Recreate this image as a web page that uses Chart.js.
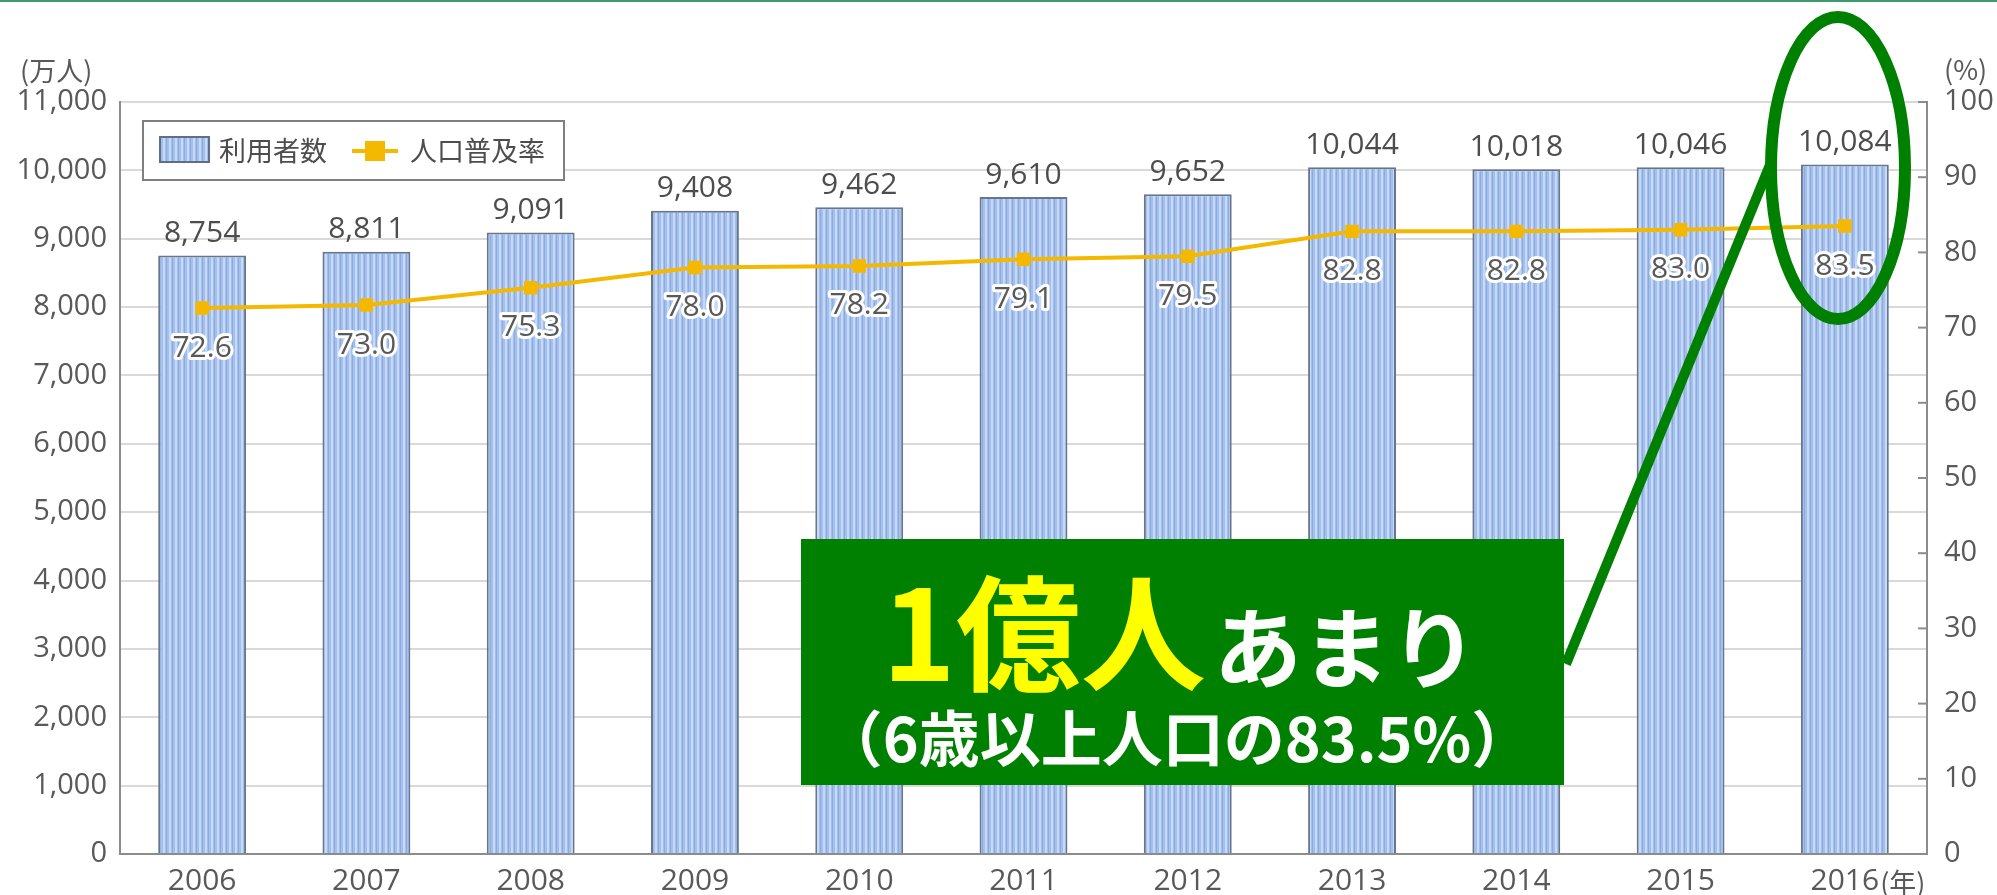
<!DOCTYPE html>
<html lang="ja">
<head>
<meta charset="utf-8">
<script src="https://cdn.jsdelivr.net/npm/chart.js@4.4.1/dist/chart.umd.min.js"></script>
<style>
html,body{margin:0;padding:0;background:#fff;}
canvas{display:block;}
</style>
</head>
<body>
<canvas id="c" width="1997" height="895"></canvas>
<script>
/* DATA */
const years = ["2006","2007","2008","2009","2010","2011","2012","2013","2014","2015","2016"];
const users = [8754, 8811, 9091, 9408, 9462, 9610, 9652, 10044, 10018, 10046, 10084];
const rate  = [72.6, 73.0, 75.3, 78.0, 78.2, 79.1, 79.5, 82.8, 82.8, 83.0, 83.5];
const leftMax = 11000, leftStep = 1000;
const rightMax = 100, rightStep = 10;
const seriesNames = ["利用者数", "人口普及率"];
const leftUnit = "(万人)", rightUnit = "(%)", yearUnit = "(年)";
const calloutBig = "1億人", calloutSmall = "あまり";
const calloutNote = "（6歳以上人口の83.5%）";

const FONT = "'Open Sans','Noto Sans CJK JP',sans-serif";
const JP = "'Noto Sans CJK JP',sans-serif";
const TXT = "#595959";
const GREEN = "#008000";

const cv = document.getElementById("c");
const ctx = cv.getContext("2d");

/* striped bar fill */
function stripes() {
  const p = document.createElement("canvas");
  p.width = 6; p.height = 4;
  const g = p.getContext("2d");
  g.fillStyle = "#a4bfeb"; g.fillRect(0, 0, 6, 4);
  g.fillStyle = "#c6d9f6"; g.fillRect(1, 0, 2, 4);
  g.fillStyle = "#8cacdf"; g.fillRect(4, 0, 1, 4);
  return ctx.createPattern(p, "repeat");
}
const barFill = stripes();

/* labels, legend, inner ticks, callout */
const decor = {
  id: "decor",
  afterDatasetsDraw(chart) {
    const c = chart.ctx;
    const bars = chart.getDatasetMeta(0).data;
    const pts = chart.getDatasetMeta(1).data;
    c.save();
    c.textAlign = "center";
    c.textBaseline = "middle";
    c.font = "30px " + FONT;
    c.fillStyle = "#4d4d4d";
    bars.forEach((b, i) => c.fillText(users[i].toLocaleString("en-US"), b.x, b.y - 22));
    c.lineJoin = "round";
    pts.forEach((p, i) => {
      const t = rate[i].toFixed(1);
      c.strokeStyle = "#fff"; c.lineWidth = 6;
      c.strokeText(t, p.x, p.y + 40);
      c.fillStyle = TXT;
      c.fillText(t, p.x, p.y + 40);
    });
    c.restore();
  },
  afterDraw(chart) {
    const c = chart.ctx;
    const a = chart.chartArea;
    const r = chart.scales.y1;
    c.save();

    // top rule
    c.fillStyle = "#3f9a70";
    c.fillRect(0, 0, chart.width, 2);

    // inner ticks on right axis
    c.strokeStyle = "#8c8c8c"; c.lineWidth = 2;
    for (let v = rightStep; v <= rightMax; v += rightStep) {
      const y = r.getPixelForValue(v);
      c.beginPath(); c.moveTo(a.right - 9, y); c.lineTo(a.right, y); c.stroke();
    }

    // unit labels
    c.fillStyle = TXT;
    c.font = "27px " + JP;
    c.textBaseline = "middle";
    c.textAlign = "left";
    c.fillText(leftUnit, 20, 71);
    c.fillText(rightUnit, 1944, 70);
    const last = chart.scales.x.getPixelForValue(years.length - 1);
    c.font = "30px " + FONT;
    const w = c.measureText(years[years.length - 1]).width;
    c.font = "27px " + JP;
    c.fillText(yearUnit, last + w / 2 + 1, a.bottom + 29);

    // legend
    c.fillStyle = "#fff";
    c.fillRect(143, 121, 421, 59);
    c.strokeStyle = "#7f7f7f"; c.lineWidth = 2;
    c.strokeRect(143, 121, 421, 59);
    c.fillStyle = barFill;
    c.fillRect(160, 137, 49, 25);
    c.strokeStyle = "#5f6f88"; c.lineWidth = 2;
    c.strokeRect(160, 137, 49, 25);
    c.fillStyle = "#4d4d4d";
    c.font = "27px " + JP;
    c.fillText(seriesNames[0], 219, 151);
    c.strokeStyle = "#f5b800"; c.lineWidth = 4;
    c.beginPath(); c.moveTo(352, 151); c.lineTo(398, 151); c.stroke();
    c.fillStyle = "#f5b800";
    c.fillRect(365, 141, 20, 20);
    c.fillStyle = "#4d4d4d";
    c.fillText(seriesNames[1], 410, 151);

    // callout box
    c.fillStyle = GREEN;
    c.fillRect(801, 539, 763, 246);
    c.textBaseline = "alphabetic";
    c.font = "bold 125px " + JP;
    const w1 = c.measureText(calloutBig).width;
    c.font = "bold 88px " + JP;
    const w2 = c.measureText(calloutSmall).width;
    let x0 = 1180 - (w1 + w2 + 8) / 2;
    c.textAlign = "left";
    c.fillStyle = "#ffff00";
    c.font = "bold 125px " + JP;
    c.fillText(calloutBig, x0, 681);
    c.fillStyle = "#fff";
    c.font = "bold 88px " + JP;
    c.fillText(calloutSmall, x0 + w1 + 8, 681);
    c.textAlign = "center";
    c.textBaseline = "middle";
    c.font = "bold 61px " + JP;
    c.fillText(calloutNote, 1177, 739);

    // pointer and ellipse
    c.strokeStyle = GREEN;
    c.lineWidth = 10;
    c.beginPath(); c.moveTo(1566, 664); c.lineTo(1772, 160); c.stroke();
    c.lineWidth = 12;
    c.beginPath(); c.ellipse(1838, 168, 67, 151, 0, 0, Math.PI * 2); c.stroke();
    c.restore();
  }
};

new Chart(cv, {
  data: {
    labels: years,
    datasets: [
      {
        type: "bar", label: seriesNames[0], data: users, yAxisID: "y", order: 1,
        backgroundColor: barFill, borderColor: "#66768e", borderWidth: 2,
        barPercentage: 0.535, categoryPercentage: 1
      },
      {
        type: "line", label: seriesNames[1], data: rate, yAxisID: "y1", order: 0,
        borderColor: "#f5b800", borderWidth: 4, tension: 0,
        pointStyle: "rect", pointRadius: 9.5, pointBackgroundColor: "#f5b800", pointBorderWidth: 0
      }
    ]
  },
  options: {
    responsive: false,
    animation: false,
    devicePixelRatio: 1,
    layout: { padding: { top: 102, left: 0, right: 0, bottom: 0 } },
    plugins: { legend: { display: false }, tooltip: { enabled: false } },
    scales: {
      x: {
        grid: { display: false, drawTicks: false },
        border: { color: "#8c8c8c", width: 2 },
        ticks: { color: TXT, font: { family: FONT, size: 30 }, padding: 9 },
        afterFit: s => { s.height = 41; }
      },
      y: {
        position: "left", min: 0, max: leftMax,
        grid: { color: "#d9d9d9", lineWidth: 2, drawTicks: false },
        border: { color: "#8c8c8c", width: 2 },
        ticks: { stepSize: leftStep, color: TXT, padding: 13, font: { family: FONT, size: 29 },
                 callback: v => v.toLocaleString("en-US") },
        afterFit: s => { s.width = 120; }
      },
      y1: {
        position: "right", min: 0, max: rightMax,
        grid: { drawOnChartArea: false, drawTicks: false },
        border: { color: "#8c8c8c", width: 2 },
        ticks: { stepSize: rightStep, color: TXT, padding: 17, font: { family: FONT, size: 29 } },
        afterFit: s => { s.width = 70; }
      }
    }
  },
  plugins: [decor]
});
</script>
</body>
</html>
